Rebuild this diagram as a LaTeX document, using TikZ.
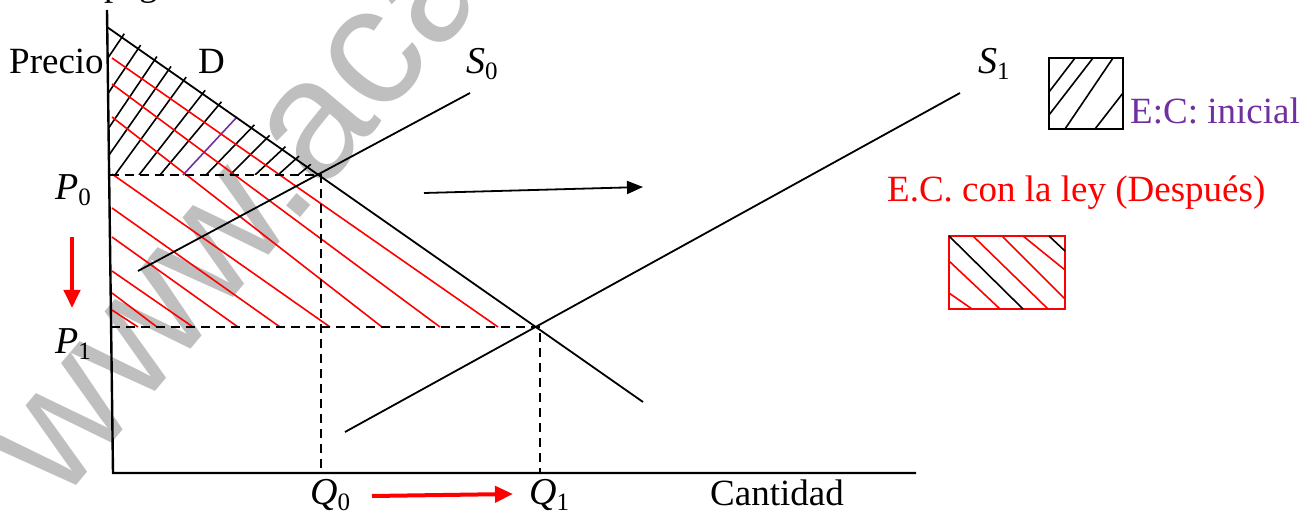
\documentclass[tikz,border=0pt]{standalone}
\usepackage{fontspec}
\setmainfont{Liberation Serif}
\newfontfamily\wmfont{Liberation Sans}
\usetikzlibrary{arrows.meta,calc}
\definecolor{ecpurple}{HTML}{7030A0}
\definecolor{wmgray}{RGB}{191,191,191}
\newcommand{\sublbl}[2]{{\fontsize{38}{40}\selectfont\itshape #1}\raisebox{-6pt}{\fontsize{25}{25}\selectfont #2}}
\begin{document}
\begin{tikzpicture}[x=1pt,y=-1pt,
  curve/.style={line width=1.8pt, black},
  axisline/.style={line width=2.4pt, black},
  guide/.style={line width=1.6pt, dash pattern=on 9pt off 6pt},
  blackhatch/.style={line width=1.6pt, black},
  redhatch/.style={line width=1.6pt, red},
  lab/.style={font=\fontsize{37}{40}\selectfont, inner sep=0pt},
  mlab/.style={inner sep=0pt},
  ]
\useasboundingbox (0,0) rectangle (1302,513);
\fill[white] (0,0) rectangle (1302,513);
\begin{scope}
  \clip (0,0) rectangle (1302,513);
  \node[anchor=base west, rotate=50, inner sep=0pt, text=wmgray,
        font=\wmfont\fontsize{170}{170}\selectfont] (wm) at (60,505) {www.acad};
  \node[lab, anchor=base west] (top) at (104,-4) {pág};
\end{scope}

% key points
\coordinate (ytop) at (107,10);
\coordinate (O) at (113,473);
\coordinate (xend) at (916,473);
\coordinate (E0) at (321,175);
\coordinate (E1) at (540,327);
\coordinate (Dtop) at (107,27);
\coordinate (Dend) at (643,402);
\coordinate (S0a) at (138,271);
\coordinate (S0b) at (470,93);
\coordinate (S1a) at (345,432);
\coordinate (S1b) at (960,93);
\coordinate (P0a) at (110,175);
\coordinate (P1a) at (111,327);
\coordinate (Q0) at (321,473);
\coordinate (Q1) at (540,473);

% black hatching (initial consumer surplus)
\begin{scope}
  \clip (109,175) -- (109,23) -- (326,175) -- cycle;
  \foreach \xb/\a in {29/56, 53/56, 77/56, 95/55, 115/54, 139/52, 160/50, 206/46, 230/45, 255/43, 278/42, 298/40}
    \draw[blackhatch] (\xb,175) -- ++({300*cos(\a)},{-300*sin(\a)});
\end{scope}
\draw[line width=1.6pt, ecpurple] (183,175) -- (237,117);

% red hatching (consumer surplus after)
\foreach \ya/\xe in {58/498, 84/440, 117/382, 174/330, 208/280, 237/238, 271/193, 293/157, 310/138}
  \draw[redhatch] (112,\ya) -- (\xe,327);

% guides
\draw[guide] (P0a) -- (E0) -- (Q0);
\draw[guide] (P1a) -- (E1) -- (Q1);

% axes and curves
\draw[axisline] (ytop) -- (O) -- (xend);
\draw[curve] (Dtop) -- (Dend);
\draw[curve] (S0a) -- (S0b);
\draw[curve] (S1a) -- (S1b);

% arrows
\coordinate (sh1) at (424,193);
\coordinate (sh2) at (643,187);
\draw[line width=1.8pt, -{Triangle[length=16pt,width=13pt]}] (sh1) -- (sh2);
\coordinate (pd1) at (72,237);
\coordinate (pd2) at (72,308);
\draw[red, line width=4pt, -{Triangle[length=18pt,width=16pt]}] (pd1) -- (pd2);
\coordinate (qa1) at (372,496);
\coordinate (qa2) at (513,494);
\draw[red, line width=4pt, -{Triangle[length=18pt,width=16pt]}] (qa1) -- (qa2);

% labels
\node[lab, anchor=base west] (precio) at (9,74) {Precio};
\node[lab, anchor=base west] (dlab) at (198,74) {D};
\node[mlab, anchor=base west] (s0) at (466,74) {\sublbl{S}{0}};
\node[mlab, anchor=base west] (s1) at (978,74) {\sublbl{S}{1}};
\node[mlab, anchor=base west] (p0) at (55,200) {\sublbl{P}{0}};
\node[mlab, anchor=base west] (p1) at (55,353) {\sublbl{P}{1}};
\node[mlab, anchor=base west] (q0) at (310,504) {\sublbl{Q}{0}};
\node[mlab, anchor=base west] (q1) at (529,504) {\sublbl{Q}{1}};
\node[lab, anchor=base west] (cant) at (710,505) {Cantidad};

% legend 1
\draw[line width=2pt] (1049,58) rectangle (1123,129);
\draw[blackhatch] (1049,92) -- (1075,58);
\draw[blackhatch] (1049,115) -- (1093,58);
\draw[blackhatch] (1065,129) -- (1113,58);
\draw[blackhatch] (1095,129) -- (1123,93);
\node[lab, anchor=base west, text=ecpurple] (leg1) at (1130,124) {E:C: inicial};

% legend 2
\node[lab, anchor=base west, text=red] (leg2) at (887,202) {E.C. con la ley (Después)};
\draw[red, line width=2pt] (949,236) rectangle (1065,309);
\draw[redhatch] (949,261) -- (1000,309);
\draw[redhatch] (949,293) -- (972,309);
\draw[redhatch] (973,236) -- (1048,309);
\draw[redhatch] (1002,236) -- (1065,299);
\draw[redhatch] (1023,236) -- (1065,270);
\draw[blackhatch] (949,236) -- (1023,309);
\draw[blackhatch] (1049,236) -- (1065,251);
\end{tikzpicture}
\end{document}
